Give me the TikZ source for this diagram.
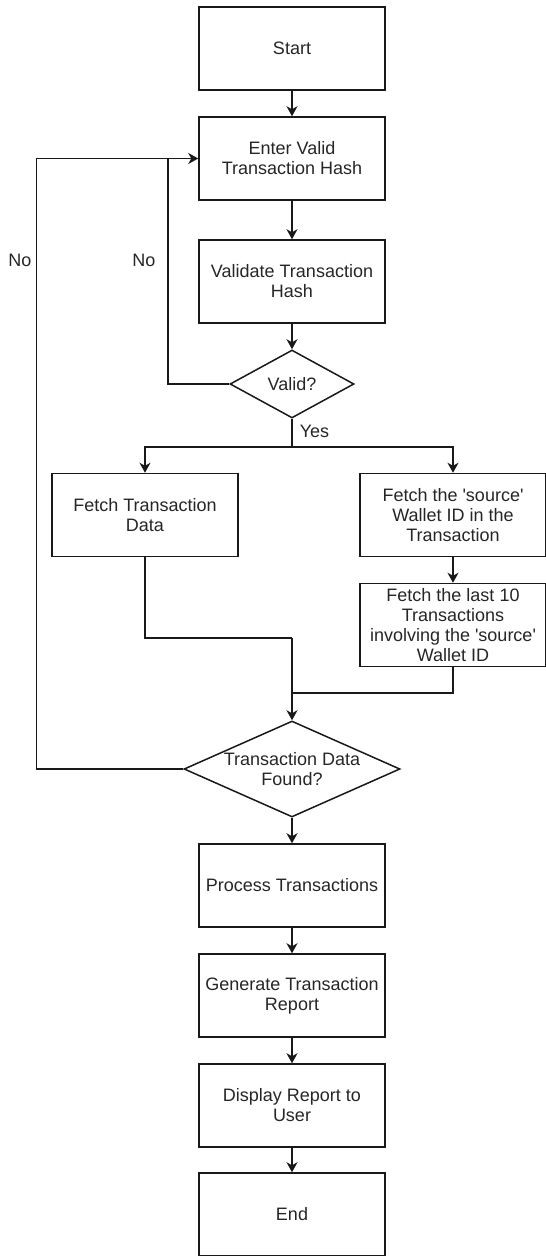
\documentclass[tikz,border=0pt]{standalone}
\usepackage{fontspec}
\setmainfont{Liberation Sans}
\usetikzlibrary{shapes.geometric, arrows.meta}

\begin{document}
\begin{tikzpicture}[x = 1pt, y = -1pt,
    line/.style = {line width = 1.5pt, draw = black!90},
    arr/.style = {line, -{Stealth[length = 10pt, width = 11pt, inset = 3pt]}},
    txt/.style = {font = \fontsize{18}{20}\selectfont, text = black!85, align = center},
    box/.style = {txt, line, rectangle, minimum width = 186pt, minimum height = 83pt, inner sep = 0pt},
    decision/.style = {txt, line, diamond, inner sep = -2pt}
]
    \useasboundingbox (0, 0) rectangle (546, 1256);

    \node[box] (start) at (292, 48.5) {Start};
    \node[box] (enter) at (292, 158.5) {Enter Valid\\Transaction Hash};
    \node[box] (validate) at (292, 281.5) {Validate Transaction\\Hash};
    \node[decision, minimum width = 124pt, minimum height = 68pt, aspect = 1.82] (valid) at (292, 384) {Valid?};
    \node[box] (fetchdata) at (145, 515) {Fetch Transaction\\Data};
    \node[box] (source) at (453, 515) {Fetch the \textquotesingle source\textquotesingle\\Wallet ID in the\\Transaction};
    \node[box] (lastten) at (453, 625) {Fetch the last 10\\Transactions\\involving the \textquotesingle source\textquotesingle\\Wallet ID};
    \node[decision, minimum width = 216pt, minimum height = 96pt, aspect = 2.25] (found) at (292, 769) {Transaction Data\\Found?};
    \node[box] (process) at (292, 885.5) {Process Transactions};
    \node[box] (report) at (292, 995.5) {Generate Transaction\\Report};
    \node[box] (display) at (292, 1105.5) {Display Report to\\User};
    \node[box] (end) at (292, 1214.5) {End};

    \node[txt] (nofound) at (20, 260) {No};
    \node[txt] (novalid) at (144, 260) {No};
    \node[txt] (yes) at (314.5, 431) {Yes};

    \coordinate (loopin) at (168, 158.5);
    \coordinate (outer) at (36.5, 158.5);
    \coordinate (split) at (292, 447);
    \coordinate (joinleft) at (292, 638);
    \coordinate (joinright) at (292, 693);

    \draw[arr] (start) -- (enter);
    \draw[arr] (enter) -- (validate);
    \draw[arr] (validate) -- (valid);
    \draw[arr] (valid.west) -| (loopin) -- (enter.west);
    \draw[line] (found.west) -| (outer) -- (loopin);
    \draw[line] (valid.south) -- (split);
    \draw[arr] (split) -| (fetchdata.north);
    \draw[arr] (split) -| (source.north);
    \draw[arr] (source) -- (lastten);
    \draw[line] (fetchdata.south) |- (joinleft);
    \draw[line] (lastten.south) |- (joinright);
    \draw[arr] (joinleft) -- (found.north);
    \draw[arr] (found) -- (process);
    \draw[arr] (process) -- (report);
    \draw[arr] (report) -- (display);
    \draw[arr] (display) -- (end);
\end{tikzpicture}
\end{document}
